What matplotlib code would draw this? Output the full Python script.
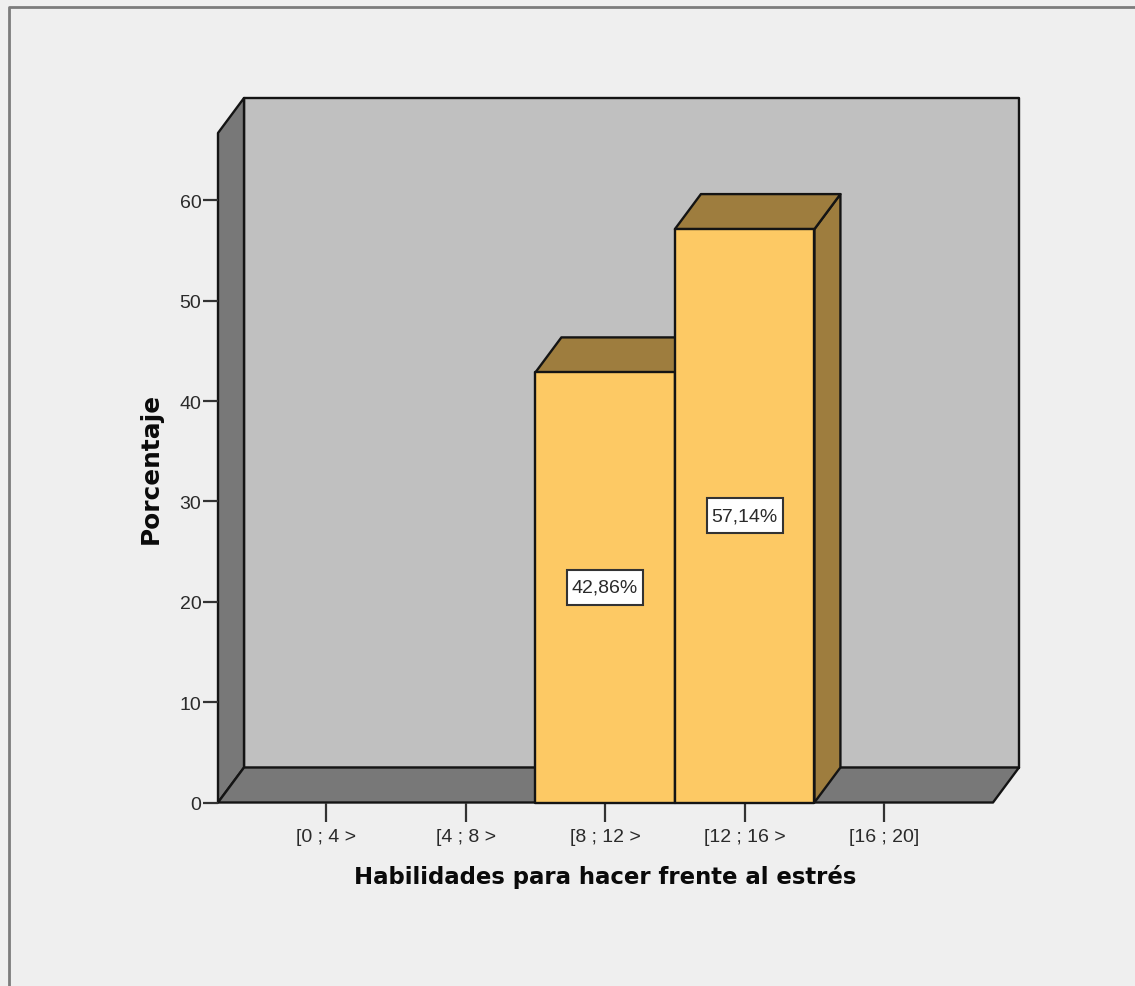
import matplotlib
matplotlib.use("Agg")
import matplotlib.pyplot as plt
from matplotlib.lines import Line2D
from matplotlib.patches import Polygon, Rectangle

categories = ["[0 ; 4 >", "[4 ; 8 >", "[8 ; 12 >", "[12 ; 16 >", "[16 ; 20]"]
percentages = [0, 0, 42.86, 57.14, 0]
value_labels = ["", "", "42,86%", "57,14%", ""]
y_ticks = [0, 10, 20, 30, 40, 50, 60]
x_label = "Habilidades para hacer frente al estrés"
y_label = "Porcentaje"

W, H = 1135, 987
BG = "#efefef"
WALL = "#c0c0c0"
SIDE = "#787878"
FRONT = "#fdc964"
SHADE = "#9e7d3e"
EDGE = "#141414"
TXT = "#2a2a2a"

plt.rcParams["font.family"] = ["Liberation Sans", "DejaVu Sans"]
fig = plt.figure(figsize=(W / 100, H / 100), dpi=100, facecolor=BG)

# axes box is the front plane of the 3-D frame
L, R, T, B = 218.0, 993.0, 134.0, 803.5
PX_Y = 10.035
ax = fig.add_axes([L / W, 1 - B / H, (R - L) / W, (B - T) / H])
ax.patch.set_alpha(0)
ax.set_xlim(-0.775, 4.78)
ax.set_ylim(0, (B - T) / PX_Y)
for s in ax.spines.values():
    s.set_visible(False)

PX_X = (R - L) / (4.78 + 0.775)
dx = 26 / PX_X
dy = 35 / PX_Y
x0, x1 = ax.get_xlim()
y0, y1 = ax.get_ylim()


def poly(pts, fc, z):
    ax.add_patch(Polygon(pts, closed=True, fc=fc, ec=EDGE, lw=1.7, joinstyle="round",
                         clip_on=False, zorder=z))


# back wall, left wall, floor
poly([(x0 + dx, y0 + dy), (x1 + dx, y0 + dy), (x1 + dx, y1 + dy), (x0 + dx, y1 + dy)], WALL, 1)
poly([(x0, y0), (x0 + dx, y0 + dy), (x0 + dx, y1 + dy), (x0, y1)], SIDE, 1.1)
poly([(x0, y0), (x1, y0), (x1 + dx, y0 + dy), (x0 + dx, y0 + dy)], SIDE, 1.2)

# bars
width = 1.0
box_w, box_h = 76 / PX_X, 35 / PX_Y
for i, v in enumerate(percentages):
    if v <= 0:
        continue
    a, b = i - width / 2, i + width / 2
    z = 2 + i
    poly([(b, 0), (b + dx, dy), (b + dx, v + dy), (b, v)], SHADE, z)
    poly([(a, v), (b, v), (b + dx, v + dy), (a + dx, v + dy)], SHADE, z)
    poly([(a, 0), (b, 0), (b, v), (a, v)], FRONT, z + 0.1)
    ax.add_patch(Rectangle((i - box_w / 2, v / 2 - box_h / 2), box_w, box_h, fc="white",
                           ec="#333333", lw=1.5, zorder=9))
    ax.text(i - 0.005, v / 2, value_labels[i], ha="center", va="center", fontsize=14,
            color=TXT, zorder=10)

ax.set_xticks(range(len(categories)))
ax.set_xticklabels(categories)
ax.set_yticks(y_ticks)
ax.tick_params(axis="x", length=13.5, width=1.6, color="#333333", labelsize=14,
               labelcolor=TXT, pad=5)
ax.tick_params(axis="y", length=11, width=1.6, color="#333333", labelsize=14,
               labelcolor=TXT, pad=1)
ax.set_xlabel(x_label, fontsize=16.4, fontweight="bold", family=["DejaVu Sans"], color="#0a0a0a")
ax.set_ylabel(y_label, fontsize=17.8, fontweight="bold", family=["DejaVu Sans"], color="#0a0a0a")
ax.xaxis.set_label_coords((605 - L) / (R - L), 1 - (877 - T) / (B - T))
ax.xaxis.get_label().set_va("center")
ax.yaxis.set_label_coords((151 - L) / (R - L), (B - 468) / (B - T))
ax.yaxis.get_label().set_va("center")

# outer picture frame (top and left only)
fig.add_artist(Line2D([8.5 / W, 8.5 / W, 1], [0, 1 - 7.5 / H, 1 - 7.5 / H],
                      transform=fig.transFigure, color="#7c7c7c", lw=2.0))

fig.savefig("out.png", dpi=100, facecolor=BG)
